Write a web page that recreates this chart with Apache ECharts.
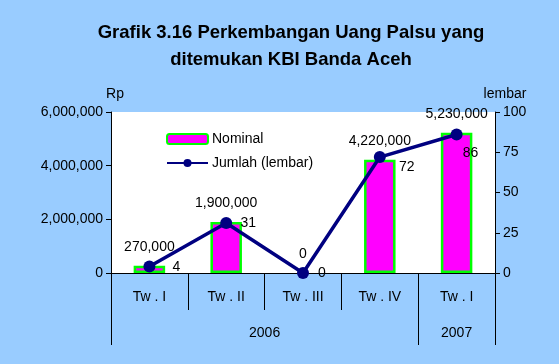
<!DOCTYPE html>
<html>
<head>
<meta charset="utf-8">
<script src="https://cdn.jsdelivr.net/npm/echarts@6/dist/echarts.min.js"></script>
<style>
  html, body { margin: 0; padding: 0; background: #99CCFF; }
  #chart { width: 559px; height: 364px; }
</style>
</head>
<body>
<div id="chart"></div>
<script>
// Quarter labels (first level) and year groups (second level)
const quarters = ['Tw . I', 'Tw . II', 'Tw . III', 'Tw . IV', 'Tw . I'];
const years = ['2006', '2007'];
const yearSpans = [4, 1]; // number of quarters in each year group

// Nominal value of counterfeit money found (Rp)
const nominal = [270000, 1900000, 0, 4220000, 5230000];
// Number of counterfeit notes (lembar)
const jumlah = [4, 31, 0, 72, 86];

// Axis tick settings
const leftMax = 6000000, leftStep = 2000000;
const rightMax = 100, rightStep = 25;

// Label placement for the line values, relative to each point
const jumlahLabelShift = [[27, 1], [22, 0], [19, 0], [27, 10], [14, 19]];

const fmt = v => Number(v).toLocaleString('en-US');

// Year group boundaries and centres, in units of quarters
const yearEdges = [0];
const yearCentres = [];
yearSpans.forEach((s, i) => {
  const start = yearEdges[yearEdges.length - 1];
  yearCentres.push(start + s / 2);
  yearEdges.push(start + s);
});

const font = 'Liberation Sans, Arial, sans-serif';
const chart = echarts.init(document.getElementById('chart'));

chart.setOption({
  backgroundColor: '#99CCFF',
  animation: false,
  textStyle: { fontFamily: font, color: '#000' },
  title: {
    text: 'Grafik 3.16 Perkembangan Uang Palsu yang\nditemukan KBI Banda Aceh',
    left: 286,
    textAlign: 'center',
    top: 14,
    textStyle: { fontSize: 18.5, fontWeight: 'bold', lineHeight: 27, color: '#000', fontFamily: font }
  },
  legend: {
    orient: 'vertical',
    left: 161,
    top: 127,
    itemWidth: 41,
    itemHeight: 10,
    itemGap: 10,
    textStyle: { fontSize: 14, color: '#000', fontFamily: font, padding: [0, 0, 0, -1] },
    data: ['Nominal', 'Jumlah (lembar)']
  },
  grid: {
    left: 111, right: 64, top: 112, bottom: 91,
    show: true, backgroundColor: '#FFFFFF', borderWidth: 0
  },
  xAxis: [
    {
      type: 'category',
      data: quarters,
      position: 'bottom',
      axisLine: { lineStyle: { color: '#000', width: 1 } },
      axisTick: { show: true, length: 37, interval: 0, lineStyle: { color: '#000' } },
      axisLabel: { interval: 0, margin: 17, fontSize: 14, color: '#000', fontFamily: font },
      splitLine: { show: false }
    },
    {
      type: 'value',
      min: 0,
      max: quarters.length,
      position: 'bottom',
      axisLine: { show: false },
      axisTick: { show: true, length: 72, customValues: yearEdges, lineStyle: { color: '#000' } },
      axisLabel: {
        customValues: yearCentres,
        margin: 53,
        fontSize: 14,
        color: '#000',
        fontFamily: font,
        formatter: v => years[yearCentres.indexOf(v)] || ''
      },
      splitLine: { show: false }
    }
  ],
  yAxis: [
    {
      type: 'value',
      min: 0, max: leftMax, interval: leftStep,
      position: 'left',
      name: 'Rp',
      nameGap: 11,
      nameTextStyle: { fontSize: 14, color: '#000', fontFamily: font, padding: [0, 0, 0, 8] },
      axisLine: { show: true, lineStyle: { color: '#000' } },
      axisTick: { show: true, length: 5, lineStyle: { color: '#000' } },
      axisLabel: { fontSize: 14, color: '#000', margin: 8, formatter: fmt, fontFamily: font },
      splitLine: { show: false }
    },
    {
      type: 'value',
      min: 0, max: rightMax, interval: rightStep,
      position: 'right',
      name: 'lembar',
      nameGap: 11,
      nameTextStyle: { fontSize: 14, color: '#000', fontFamily: font, padding: [0, 0, 0, 20] },
      axisLine: { show: true, lineStyle: { color: '#000' } },
      axisTick: { show: true, length: 5, lineStyle: { color: '#000' } },
      axisLabel: { fontSize: 14, color: '#000', margin: 8, fontFamily: font },
      splitLine: { show: false }
    }
  ],
  series: [
    {
      name: 'Nominal',
      type: 'bar',
      xAxisIndex: 0,
      yAxisIndex: 0,
      // an empty bar gets no outline
      data: nominal.map(v => v === 0 ? { value: v, itemStyle: { borderWidth: 0 } } : v),
      barWidth: '41%',
      itemStyle: { color: '#FF00FF', borderColor: '#00FF00', borderWidth: 2.5 },
      label: {
        show: true, position: 'top', distance: 12,
        fontSize: 14, color: '#000', fontFamily: font,
        formatter: p => fmt(p.value)
      }
    },
    {
      name: 'Jumlah (lembar)',
      type: 'line',
      xAxisIndex: 0,
      yAxisIndex: 1,
      data: jumlah.map((v, i) => ({
        value: v,
        label: { offset: jumlahLabelShift[i] }
      })),
      symbol: 'circle',
      symbolSize: 12,
      lineStyle: { color: '#000080', width: 3.5 },
      itemStyle: { color: '#000080' },
      label: {
        show: true, position: 'inside',
        fontSize: 14, color: '#000', fontFamily: font
      },
      z: 3
    }
  ]
});
</script>
</body>
</html>
